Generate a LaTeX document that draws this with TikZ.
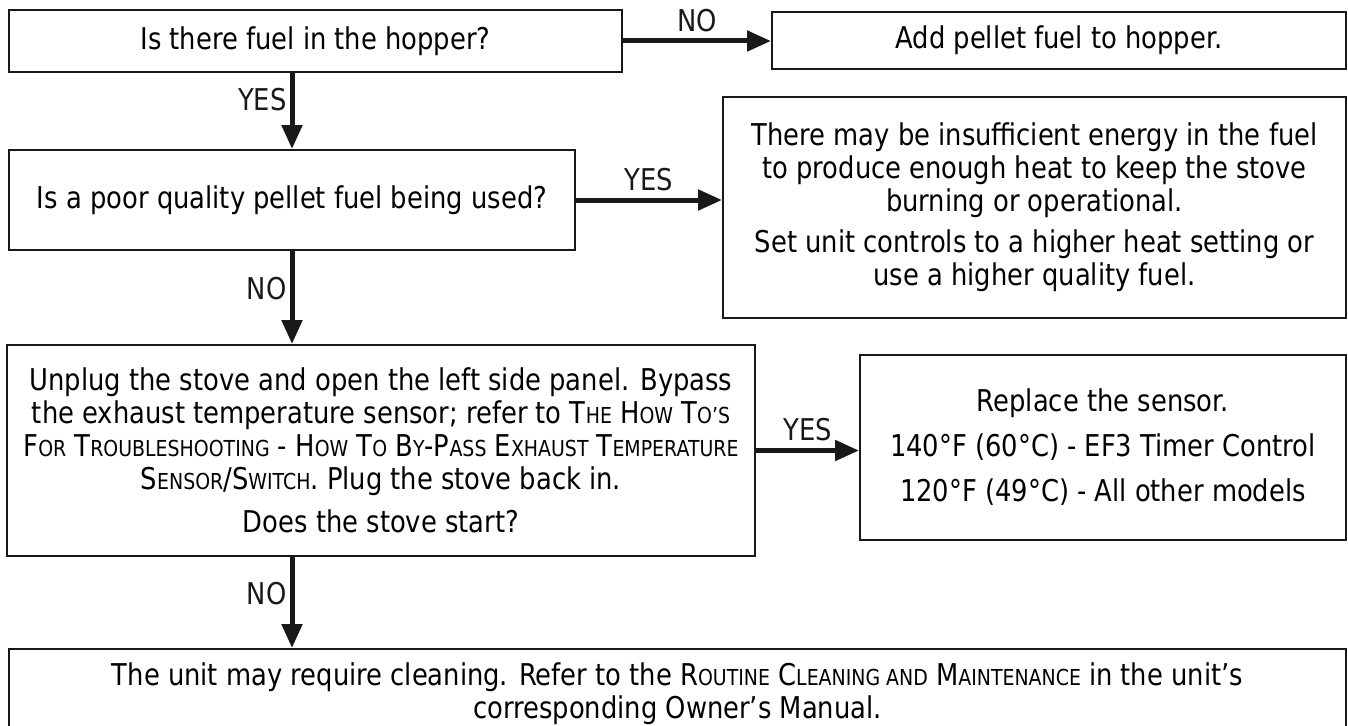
\documentclass[tikz,border=0pt]{standalone}
\usepackage{fontspec}
\setmainfont{DejaVu Sans}[FakeStretch=0.86]
\usetikzlibrary{arrows.meta}
\newcommand{\smcap}[1]{{\fontsize{22}{33}\selectfont #1}}

\begin{document}
\begin{tikzpicture}[x=1pt, y=-1pt, font=\fontsize{30}{33}\selectfont,
	box/.style={draw=black!90, line width=2pt, align=center, inner sep=0pt},
	flow/.style={line width=5pt, black!90, -{Triangle[length=24pt,width=20pt]}},
	answer/.style={inner sep=3pt}]
			\useasboundingbox (0,0) rectangle (1348,725);
			\clip (0,0) rectangle (1348,725);
			% questions on the left, actions on the right
			\node[box, minimum width=613pt, minimum height=62pt](fuel) at (315.5,41){Is there fuel in the hopper?};
			\node[box, minimum width=574pt, minimum height=57pt](addfuel) at (1059,40.5){Add pellet fuel to hopper.};
			\node[box, minimum width=566pt, minimum height=100pt](quality) at (292,200){Is a poor quality pellet fuel being used?};
			\node[box, minimum width=623pt, minimum height=221pt](energy) at (1034.5,207.5){There may be insufficient energy in the fuel\\to produce enough heat to keep the stove\\burning or operational.\\[8pt]Set unit controls to a higher heat setting or\\use a higher quality fuel.};
			\node[box, minimum width=748pt, minimum height=211pt](bypass) at (381,450.5){Unplug the stove and open the left side panel. Bypass\\the exhaust temperature sensor; refer to T\smcap{HE} H\smcap{OW} T\smcap{O’S}\\F\smcap{OR} T\smcap{ROUBLESHOOTING} - H\smcap{OW} T\smcap{O} B\smcap{Y}-P\smcap{ASS} E\smcap{XHAUST} T\smcap{EMPERATURE}\\S\smcap{ENSOR}/S\smcap{WITCH}. Plug the stove back in.\\[10pt]Does the stove start?};
			\node[box, minimum width=486pt, minimum height=185pt](sensor) at (1103,447.5){Replace the sensor.\\[12pt]140°F (60°C) - EF3 Timer Control\\[12pt]120°F (49°C) - All other models};
			\node[box, minimum width=1337pt, minimum height=90pt](cleaning) at (677.5,694){The unit may require cleaning. Refer to the R\smcap{OUTINE} C\smcap{LEANING AND} M\smcap{AINTENANCE} in the unit’s\\corresponding Owner’s Manual.};
			% connectors
			\draw[flow] (fuel.east) -- node[answer, above=4pt]{NO} (fuel.east -| addfuel.west);
			\draw[flow] (quality.north |- fuel.south) -- node[answer, left, pos=0.35]{YES} (quality.north);
			\draw[flow] (quality.east) -- node[answer, above=4pt]{YES} (quality.east -| energy.west);
			\draw[flow] (quality.south) -- node[answer, left, pos=0.4]{NO} (quality.south |- bypass.north);
			\draw[flow] (bypass.east) -- node[answer, above=4pt]{YES} (bypass.east -| sensor.west);
			\draw[flow] (quality.south |- bypass.south) -- node[answer, left, pos=0.4]{NO} (quality.south |- cleaning.north);
\end{tikzpicture}
\end{document}
